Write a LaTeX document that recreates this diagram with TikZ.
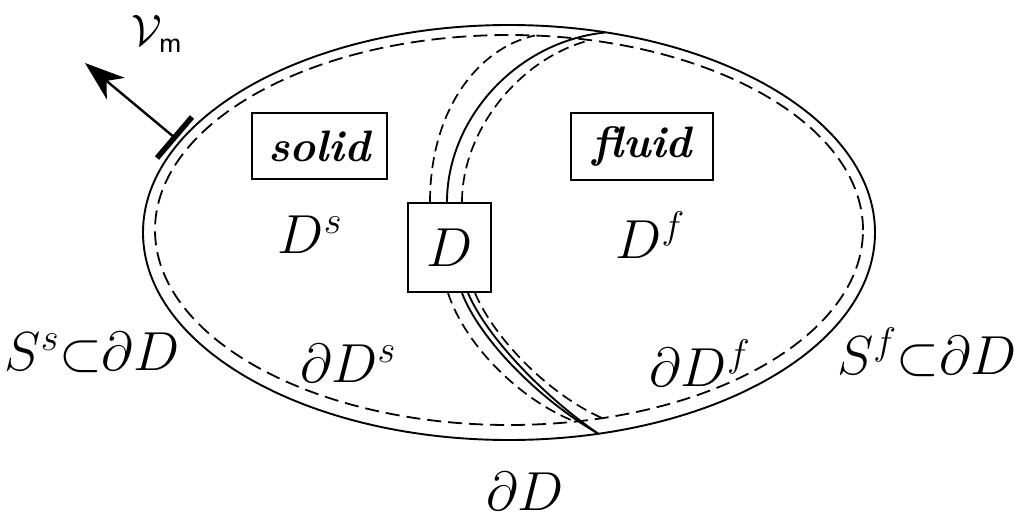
\RequirePackage{fix-cm}
\documentclass[tikz,border=0pt]{standalone}
\usetikzlibrary{arrows.meta,calc}
\begin{document}
\begin{tikzpicture}[x=1pt,y=-1pt,
  bnd/.style={line width=1.9pt},
  dsh/.style={line width=1.8pt, dash pattern=on 14pt off 7pt},
  bdsh/.style={line width=1.7pt, dash pattern=on 11pt off 6pt},
  lbl/.style={font=\fontsize{55}{60}\selectfont, inner sep=0pt},
  box/.style={draw, line width=2pt, inner sep=0pt},
  word/.style={font=\fontsize{44}{48}\selectfont\bfseries\itshape}]
\useasboundingbox (0,0) rectangle (1014,522);
% domain boundary and offset
\draw[bnd] (509,232.5) ellipse [x radius=366pt, y radius=207.5pt];
\draw[dsh] (509,230) ellipse [x radius=354pt, y radius=195pt];
% boxes
\node[box, word, minimum width=135pt, minimum height=66pt] (solidbox) at (319.5,146) {solid};
\node[box, word, minimum width=142pt, minimum height=67pt] (fluidbox) at (642,146.5) {fluid};
\node[box, lbl, minimum width=83pt, minimum height=89pt] (dbox) at (449.5,247.5) {$D$};
% interface band, upper part
\coordinate (ut) at (605,32.5);
\coordinate (utl) at (535,35.5);
\coordinate (utr) at (590,40.2);
\draw[bdsh] ($(dbox.north)+(-19.5,0)$) .. controls (430,110) and (478,48) .. (utl);
\draw[bnd] ($(dbox.north)+(-2.5,0)$) .. controls (447,120) and (515,42) .. (ut);
\draw[bdsh] ($(dbox.north)+(12.5,0)$) .. controls (462,130) and (520,58) .. (utr);
% interface band, lower part
\coordinate (lb) at (598,433.5);
\coordinate (lbl) at (575,421.6);
\coordinate (lbr) at (602,418);
\draw[bdsh] ($(dbox.south)+(-1.5,0)$) .. controls (465,345) and (520,400) .. (lbl);
\draw[bnd] ($(dbox.south)+(12.5,0)$) .. controls (480,340) and (540,400) .. (lb);
\draw[bnd] ($(dbox.south)+(18.5,0)$) .. controls (487,338) and (546,398) .. (lb);
\draw[bdsh] ($(dbox.south)+(25.5,0)$) .. controls (495,340) and (550,395) .. (lbr);
% labels
\node[lbl] (Ds) at (310,235) {$D^s$};
\node[lbl] (Df) at (650,235) {$D^f$};
\node[lbl] (dDs) at (348,363) {$\partial D^s$};
\node[lbl] (dDf) at (700,363) {$\partial D^f$};
\node[lbl] (Ss) at (92,352) {$S^s{\subset}\partial D$};
\node[lbl] (Sf) at (927,352) {$S^f{\subset}\partial D$};
\node[lbl] (dD) at (525,491) {$\partial D$};
% normal vector
\coordinate (barA) at (157,158);
\coordinate (barB) at (192,117);
\coordinate (vtip) at (85,63);
\draw[line width=5.5pt] (barA) -- (barB);
\draw[line width=2.4pt, -{Stealth[length=40pt,width=28pt,inset=12pt]}] ($(barA)!0.5!(barB)$) -- (vtip);
\node[font=\fontsize{44}{48}\selectfont, inner sep=0pt] (vm) at (157,34) {$\mathcal{V}_{\mathsf m}$};
\end{tikzpicture}
\end{document}
